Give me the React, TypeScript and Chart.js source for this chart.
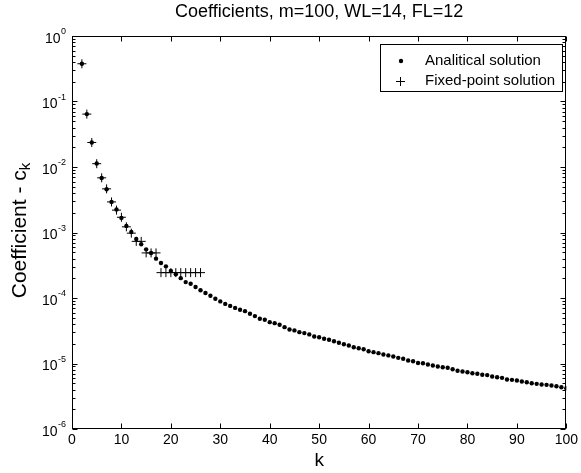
import React, { useEffect, useRef } from 'react';
import { Chart, registerables } from 'chart.js';

Chart.register(...registerables);

const FONT = '"Liberation Sans", Arial, Helvetica, sans-serif';

const titleText = 'Coefficients, m=100, WL=14, FL=12';
const xLabelText = 'k';
const yLabelMain = 'Coefficient - c';
const yLabelSub = 'k';
const legendLabels = ['Analitical solution', 'Fixed-point solution'];

const xTicks = [0, 10, 20, 30, 40, 50, 60, 70, 80, 90, 100];
const yDecades = [-6, -5, -4, -3, -2, -1, 0];

const kAnalytical = [
  2, 3, 4, 5, 6, 7, 8, 9, 10, 11, 12, 13, 14, 15, 16, 17, 18, 19, 20, 21,
  22, 23, 24, 25, 26, 27, 28, 29, 30, 31, 32, 33, 34, 35, 36, 37, 38, 39, 40, 41,
  42, 43, 44, 45, 46, 47, 48, 49, 50, 51, 52, 53, 54, 55, 56, 57, 58, 59, 60, 61,
  62, 63, 64, 65, 66, 67, 68, 69, 70, 71, 72, 73, 74, 75, 76, 77, 78, 79, 80, 81,
  82, 83, 84, 85, 86, 87, 88, 89, 90, 91, 92, 93, 94, 95, 96, 97, 98, 99, 100,
];
const cAnalytical = [
  0.377, 0.0642, 0.0237, 0.0113, 0.00681, 0.00458, 0.00293, 0.00224, 0.00167, 0.00126,
  0.00102, 0.000796, 0.00066, 0.000553, 0.000486, 0.000399, 0.000342, 0.000304, 0.000258, 0.00023,
  0.000201, 0.000175, 0.000165, 0.000147, 0.000131, 0.000119, 0.000108, 9.76e-5, 8.87e-5, 8.12e-5,
  7.57e-5, 7.06e-5, 6.62e-5, 6.3e-5, 5.75e-5, 5.29e-5, 4.83e-5, 4.66e-5, 4.28e-5, 4.13e-5,
  3.9e-5, 3.59e-5, 3.31e-5, 3.2e-5, 3.01e-5, 2.91e-5, 2.78e-5, 2.59e-5, 2.52e-5, 2.39e-5,
  2.3e-5, 2.19e-5, 2.07e-5, 1.97e-5, 1.88e-5, 1.77e-5, 1.71e-5, 1.65e-5, 1.54e-5, 1.49e-5,
  1.44e-5, 1.37e-5, 1.33e-5, 1.28e-5, 1.22e-5, 1.18e-5, 1.11e-5, 1.08e-5, 1.02e-5, 1.01e-5,
  9.65e-6, 9.32e-6, 8.99e-6, 8.78e-6, 8.6e-6, 8.15e-6, 7.73e-6, 7.54e-6, 7.36e-6, 7.11e-6,
  6.96e-6, 6.72e-6, 6.65e-6, 6.33e-6, 6.17e-6, 6.04e-6, 5.69e-6, 5.63e-6, 5.5e-6, 5.31e-6,
  5.18e-6, 5.0e-6, 4.89e-6, 4.77e-6, 4.72e-6, 4.61e-6, 4.5e-6, 4.34e-6, 4.19e-6,
];

const kFixed = [
  2, 3, 4, 5, 6, 7, 8, 9, 10, 11, 12, 13, 14, 15, 16, 17, 18, 19, 20, 21, 22, 23, 24, 25, 26,
];
const cFixed = [
  0.376953, 0.064209, 0.023682, 0.011230, 0.006836, 0.004639, 0.002930, 0.002197, 0.001709,
  0.001221, 0.000977, 0.000732, 0.000732, 0.000488, 0.000488, 0.000488, 0.000244, 0.000244,
  0.000244, 0.000244, 0.000244, 0.000244, 0.000244, 0.000244, 0.000244,
];

const decor = {
  id: 'matlabDecor',
  afterDraw(chart: any) {
    const ctx = chart.ctx as CanvasRenderingContext2D;
    const ca = chart.chartArea;
    const xs = chart.scales.x;
    const ys = chart.scales.y;
    ctx.save();
    ctx.strokeStyle = '#000';
    ctx.fillStyle = '#000';
    ctx.lineWidth = 1;
    const L = Math.round(ca.left) + 0.5;
    const R = Math.round(ca.right) - 0.5;
    const T = Math.round(ca.top) + 0.5;
    const B = Math.round(ca.bottom) - 0.5;
    ctx.strokeRect(L, T, R - L, B - T);
    ctx.beginPath();
    for (const v of xTicks) {
      const px = Math.round(xs.getPixelForValue(v)) + 0.5;
      ctx.moveTo(px, B);
      ctx.lineTo(px, B - 5);
      ctx.moveTo(px, T);
      ctx.lineTo(px, T + 5);
    }
    for (const d of yDecades) {
      const py = Math.round(ys.getPixelForValue(Math.pow(10, d))) + 0.5;
      ctx.moveTo(L, py);
      ctx.lineTo(L + 5, py);
      ctx.moveTo(R, py);
      ctx.lineTo(R - 5, py);
      if (d < 0) {
        for (let m = 2; m <= 9; m++) {
          const pm = Math.round(ys.getPixelForValue(m * Math.pow(10, d))) + 0.5;
          ctx.moveTo(L, pm);
          ctx.lineTo(L + 3, pm);
          ctx.moveTo(R, pm);
          ctx.lineTo(R - 3, pm);
        }
      }
    }
    ctx.stroke();

    // y tick labels 10^n
    ctx.textBaseline = 'middle';
    ctx.textAlign = 'right';
    for (const d of yDecades) {
      const py = ys.getPixelForValue(Math.pow(10, d));
      const exp = String(d);
      ctx.font = `9px ${FONT}`;
      const ew = ctx.measureText(exp).width;
      ctx.fillText(exp, 66, py - 4);
      ctx.font = `14px ${FONT}`;
      ctx.fillText('10', 66 - ew - 0.5, py + 3);
    }

    // title
    const cx = (ca.left + ca.right) / 2;
    ctx.textAlign = 'center';
    ctx.font = `18px ${FONT}`;
    ctx.fillText(titleText, cx, 12);

    // x label
    ctx.font = `19px ${FONT}`;
    ctx.fillText(xLabelText, cx, 461);

    // y label with subscript
    ctx.save();
    const cy = (ca.top + ca.bottom) / 2 - 2;
    ctx.translate(20, cy);
    ctx.rotate(-Math.PI / 2);
    ctx.font = `21px ${FONT}`;
    const mw = ctx.measureText(yLabelMain).width;
    ctx.font = `15px ${FONT}`;
    const sw = ctx.measureText(yLabelSub).width;
    const start = -(mw + sw) / 2;
    ctx.textAlign = 'left';
    ctx.font = `21px ${FONT}`;
    ctx.fillText(yLabelMain, start, 0);
    ctx.font = `15px ${FONT}`;
    ctx.fillText(yLabelSub, start + mw, 6);
    ctx.restore();

    // legend
    const lx0 = 380.5, ly0 = 44.5, lx1 = 562.5, ly1 = 91.5;
    ctx.fillStyle = '#fff';
    ctx.fillRect(lx0, ly0, lx1 - lx0, ly1 - ly0);
    ctx.strokeStyle = '#000';
    ctx.strokeRect(lx0, ly0, lx1 - lx0, ly1 - ly0);
    ctx.fillStyle = '#000';
    ctx.beginPath();
    ctx.arc(401, 61, 2.2, 0, Math.PI * 2);
    ctx.fill();
    ctx.beginPath();
    ctx.moveTo(396, 81.5);
    ctx.lineTo(405, 81.5);
    ctx.moveTo(400.5, 77);
    ctx.lineTo(400.5, 86);
    ctx.stroke();
    ctx.textAlign = 'left';
    ctx.textBaseline = 'middle';
    ctx.font = `15px ${FONT}`;
    ctx.fillText(legendLabels[0], 425, 61);
    ctx.fillText(legendLabels[1], 425, 81);
    ctx.restore();
  },
};

export default function App() {
  const ref = useRef<HTMLCanvasElement | null>(null);
  useEffect(() => {
    if (!ref.current) return;
    const chart = new Chart(ref.current, {
      type: 'scatter',
      data: {
        datasets: [
          {
            label: legendLabels[0],
            data: kAnalytical.map((k, i) => ({ x: k, y: cAnalytical[i] })),
            pointStyle: 'circle',
            pointRadius: 2.2,
            pointBackgroundColor: '#000',
            pointBorderWidth: 0,
            showLine: false,
          },
          {
            label: legendLabels[1],
            data: kFixed.map((k, i) => ({ x: k, y: cFixed[i] })),
            pointStyle: 'cross',
            pointRadius: 4.5,
            pointBorderColor: '#000',
            pointBorderWidth: 1,
            showLine: false,
          },
        ],
      },
      options: {
        animation: false,
        responsive: true,
        maintainAspectRatio: false,
        devicePixelRatio: 1,
        layout: { padding: { top: 36, right: 12, bottom: 0, left: 0 } },
        plugins: {
          legend: { display: false },
          title: { display: false },
          tooltip: { enabled: false },
        },
        scales: {
          x: {
            type: 'linear',
            min: 0,
            max: 100,
            ticks: {
              stepSize: 10,
              color: '#000',
              font: { family: FONT, size: 14 },
              padding: 3,
              maxRotation: 0,
              autoSkip: false,
            },
            grid: { display: false, drawTicks: false },
            border: { display: false },
            afterFit: (s: any) => {
              s.height = 44;
            },
          },
          y: {
            type: 'logarithmic',
            min: 1e-6,
            max: 1,
            ticks: { display: false },
            grid: { display: false, drawTicks: false },
            border: { display: false },
            afterFit: (s: any) => {
              s.width = 72;
            },
          },
        },
      },
      plugins: [decor],
    });
    return () => chart.destroy();
  }, []);
  return (
    <div style={{ position: 'fixed', left: 0, top: 0, width: 581, height: 473, background: '#fff' }}>
      <canvas ref={ref} />
    </div>
  );
}
